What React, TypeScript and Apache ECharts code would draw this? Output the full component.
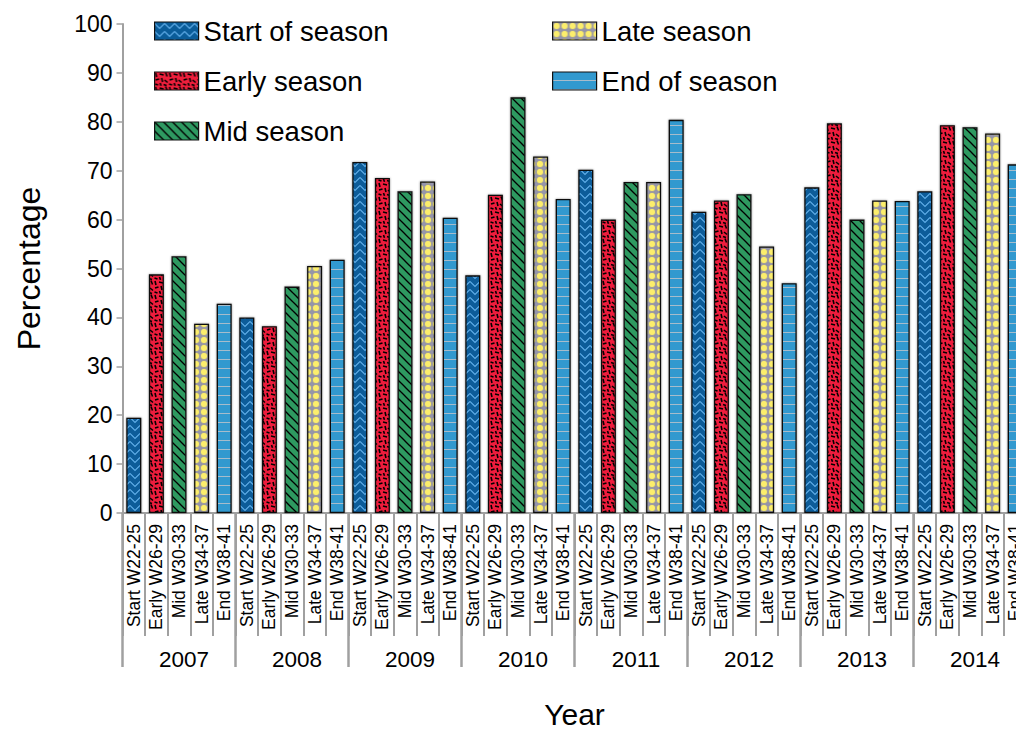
import React, { useEffect, useRef } from "react";
import * as echarts from "echarts";

const years = ["2007", "2008", "2009", "2010", "2011", "2012", "2013", "2014"];
const periods = ["Start W22-25", "Early W26-29", "Mid W30-33", "Late W34-37", "End W38-41"];
const seriesNames = ["Start of season", "Early season", "Mid season", "Late season", "End of season"];

const startValues = [19.5, 40.0, 71.8, 48.6, 70.2, 61.6, 66.6, 65.8];
const earlyValues = [48.8, 38.2, 68.5, 65.1, 60.0, 63.9, 79.7, 79.3];
const midValues = [52.5, 46.3, 65.8, 85.0, 67.7, 65.2, 60.0, 78.9];
const lateValues = [38.7, 50.5, 67.8, 72.9, 67.7, 54.5, 63.9, 77.6];
const endValues = [42.8, 51.8, 60.4, 64.2, 80.4, 47.0, 63.8, 71.3];

const yTicks = { min: 0, max: 100, interval: 10 };

type Painter = (ctx: CanvasRenderingContext2D, w: number, h: number) => void;

function makePattern(w: number, h: number, bg: string, paint: Painter) {
  const c = document.createElement("canvas");
  c.width = w;
  c.height = h;
  const ctx = c.getContext("2d")!;
  ctx.fillStyle = bg;
  ctx.fillRect(0, 0, w, h);
  paint(ctx, w, h);
  return { image: c.toDataURL(), repeat: "repeat", imageWidth: w, imageHeight: h } as any;
}

function buildPatterns() {
  const start = makePattern(10, 8, "#0a5c99", (ctx) => {
    ctx.strokeStyle = "#62aee8";
    ctx.lineWidth = 1.1;
    ctx.beginPath();
    ctx.moveTo(0, 1.5);
    ctx.lineTo(5, 6.5);
    ctx.lineTo(10, 1.5);
    ctx.stroke();
  });
  const early = makePattern(14, 14, "#ee1f3c", (ctx) => {
    ctx.strokeStyle = "#000";
    ctx.lineWidth = 1.6;
    const segs = [
      [1, 1, 2, 5], [5, 2, 9, 3], [11, 0.5, 12.5, 4.5], [1, 8, 4.5, 7],
      [7, 6, 8, 10], [10, 8, 13, 10.5], [0.5, 12, 3.5, 13], [5.5, 11, 6.5, 13.8],
      [9, 12.5, 12, 13.5],
    ];
    for (const s of segs) {
      ctx.beginPath();
      ctx.moveTo(s[0], s[1]);
      ctx.lineTo(s[2], s[3]);
      ctx.stroke();
    }
  });
  const mid = makePattern(9, 9, "#2e9961", (ctx) => {
    ctx.strokeStyle = "#000";
    ctx.lineWidth = 1.3;
    const segs = [[-1, -1, 10, 10], [-2, 7, 2, 11], [7, -2, 11, 2]];
    for (const s of segs) {
      ctx.beginPath();
      ctx.moveTo(s[0], s[1]);
      ctx.lineTo(s[2], s[3]);
      ctx.stroke();
    }
  });
  const late = makePattern(8, 8, "#9595ab", (ctx) => {
    ctx.fillStyle = "#fcee6c";
    ctx.strokeStyle = "#8686a6";
    ctx.lineWidth = 0.6;
    ctx.beginPath();
    ctx.arc(4, 4, 3.6, 0, Math.PI * 2);
    ctx.fill();
    ctx.stroke();
  });
  const end = makePattern(6, 9, "#3199cf", (ctx) => {
    ctx.fillStyle = "#a7bccb";
    ctx.fillRect(0, 8, 6, 1);
  });
  return [start, early, mid, late, end];
}

export default function App() {
  const ref = useRef<HTMLDivElement>(null);

  useEffect(() => {
    if (!ref.current) return;
    const chart = echarts.init(ref.current, null, { renderer: "svg" });
    const patterns = buildPatterns();
    const valueSets = [startValues, earlyValues, midValues, lateValues, endValues];

    const categories: string[] = [];
    years.forEach(() => periods.forEach((p) => categories.push(p)));

    const font = "'Liberation Sans', Arial, sans-serif";

    const series = seriesNames.map((name, s) => {
      const data: (number | string)[] = categories.map(() => "-");
      valueSets[s].forEach((v, y) => {
        data[y * periods.length + s] = v;
      });
      return {
        name,
        type: "bar",
        data,
        barWidth: 15,
        barGap: "-100%",
        itemStyle: {
          color: patterns[s],
          borderColor: "#111",
          borderWidth: 1.3,
          shadowColor: "rgba(0,0,0,0.45)",
          shadowBlur: 2,
        },
      };
    });

    const legendCommon = {
      orient: "vertical",
      itemWidth: 44,
      itemHeight: 18,
      itemGap: 20,
      icon: "rect",
      selectedMode: false,
      padding: 5,
      textStyle: { fontSize: 27.5, lineHeight: 30, color: "#000", fontFamily: font },
      itemStyle: { borderColor: "#111", borderWidth: 1.2 },
    };

    chart.setOption({
      animation: false,
      textStyle: { fontFamily: font },
      legend: [
        { ...legendCommon, left: 149, top: 11, data: seriesNames.slice(0, 3) },
        { ...legendCommon, left: 547, top: 11, data: seriesNames.slice(3) },
      ],
      grid: {
        left: 122.5,
        top: 24,
        width: 904,
        height: 489,
        containLabel: false,
        outerBoundsMode: "none",
      },
      xAxis: [
        {
          type: "category",
          data: categories,
          position: "bottom",
          axisLine: { show: true, lineStyle: { color: "#a0a0a0", width: 2 } },
          axisTick: { show: true, interval: 0, length: 123, lineStyle: { color: "#a0a0a0", width: 2 } },
          axisLabel: { interval: 0, rotate: 90, margin: 11, fontSize: 17.5, color: "#000", fontFamily: font },
        },
        {
          type: "category",
          data: years,
          position: "bottom",
          name: "Year",
          nameLocation: "middle",
          nameGap: 186,
          nameTextStyle: { fontSize: 30, lineHeight: 30, color: "#000", fontFamily: font },
          axisLine: { show: false },
          axisTick: { show: true, interval: 0, length: 154, lineStyle: { color: "#a0a0a0", width: 2.5 } },
          axisLabel: {
            interval: 0,
            margin: 135,
            fontSize: 22.5,
            padding: [0, 0, 0, 10],
            color: "#000",
            fontFamily: font,
          },
        },
      ],
      yAxis: {
        type: "value",
        min: yTicks.min,
        max: yTicks.max,
        interval: yTicks.interval,
        name: "Percentage",
        nameLocation: "middle",
        nameGap: 78,
        nameTextStyle: { fontSize: 32, color: "#000", fontFamily: font },
        axisLine: { show: true, lineStyle: { color: "#a0a0a0", width: 2 } },
        axisTick: { show: true, length: 6, lineStyle: { color: "#a0a0a0", width: 1.5 } },
        axisLabel: { fontSize: 23, color: "#000", margin: 10, fontFamily: font },
        splitLine: { show: false },
      },
      series,
    } as any);

    return () => chart.dispose();
  }, []);

  return (
    <div
      style={{
        position: "fixed",
        left: 0,
        top: 0,
        width: 1016,
        height: 731,
        overflow: "hidden",
        background: "#fff",
      }}
    >
      <div ref={ref} style={{ width: 1100, height: 731 }} />
    </div>
  );
}
